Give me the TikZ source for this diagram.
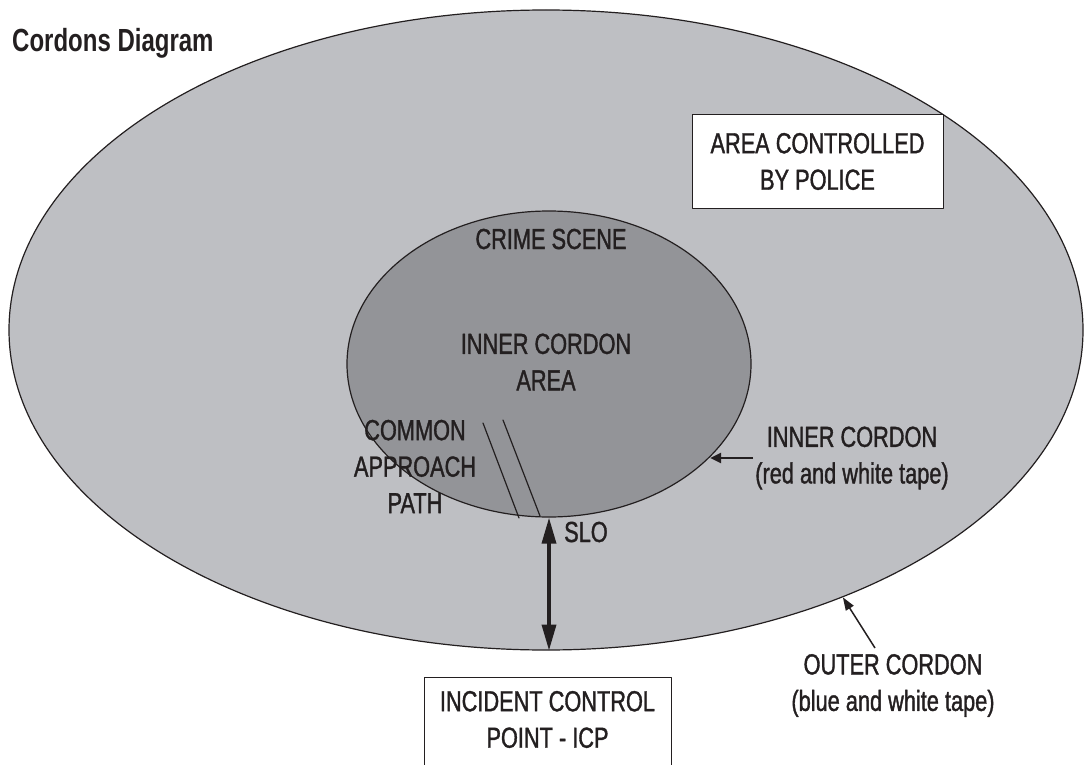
\documentclass[tikz,border=0pt]{standalone}
\usepackage{fontspec}
\setmainfont[FakeStretch=0.75, UprightFeatures={FakeBold=1.2}]{Liberation Sans}
\usetikzlibrary{arrows.meta,shapes.geometric}
\definecolor{outergray}{RGB}{190,191,195}
\definecolor{innergray}{RGB}{147,148,152}
\definecolor{ink}{RGB}{35,31,32}

\begin{document}
\begin{tikzpicture}[x=1pt, y=-1pt, line cap=round, line join=round,
    lbl/.style={font=\fontsize{29}{36.5}\selectfont, text=ink, inner sep=0pt, align=center},
    cordon/.style={ellipse, draw=ink, line width=1.2pt, inner sep=0pt},
    whitebox/.style={draw=ink, line width=1pt, fill=white, inner sep=0pt}]

\useasboundingbox (0,0) rectangle (1084,765);
\clip (0,0) rectangle (1084,765);

% Cordoni
\node[cordon, fill=outergray, minimum width=1074pt, minimum height=640pt] (outer) at (546,330) {};
\node[cordon, fill=innergray, minimum width=404pt, minimum height=306pt] (inner) at (549,364) {};

% Percorso di accesso comune
\draw[ink, line width=1.2pt] (483,423) -- (519,518);
\draw[ink, line width=1.2pt] (503,420) -- (540,516);

% Titolo
\node[lbl, anchor=base west, font=\fontsize{32}{36}\selectfont\bfseries] (title) at (12,52) {Cordons Diagram};

% Etichette
\node[lbl, anchor=base] (crime) at (551,249) {CRIME SCENE};
\node[lbl] (innerarea) at (546,362) {INNER CORDON\\AREA};
\node[lbl] (path) at (415,466.5) {COMMON\\APPROACH\\PATH};
\node[lbl, anchor=base west] (slo) at (564,542) {SLO};
\node[lbl] (innerlbl) at (852,458) {INNER CORDON\\(red and white tape)};
\node[lbl] (outerlbl) at (893,685.5) {OUTER CORDON\\(blue and white tape)};

% Riquadri
\node[whitebox, minimum width=251pt, minimum height=93pt] (police) at (817.5,161.5) {};
\node[lbl] (policetxt) at (police.center) {AREA CONTROLLED\\BY POLICE};
\node[whitebox, minimum width=247pt, minimum height=120pt, anchor=north] (icp) at (547.5,677) {};
\node[lbl] (icptxt) at (547.5,719.5) {INCIDENT CONTROL\\POINT - ICP};

% Frecce
\draw[ink, line width=3.5pt, line cap=butt, {Triangle[length=26pt,width=14pt]}-{Triangle[length=26pt,width=14pt]}]
    (inner.south) -- (inner.south |- outer.south);
\coordinate (innertail) at (753,458);
\draw[ink, line width=2.5pt, line cap=butt, -{Triangle[length=11pt,width=10pt]}] (innertail) -- (inner.-30 |- innertail);
\coordinate (outertail) at (875,648);
\draw[ink, line width=1.5pt, line cap=butt, -{Triangle[length=13pt,width=9pt]}] (outertail) -- (outer.-42.5);

\end{tikzpicture}
\end{document}
